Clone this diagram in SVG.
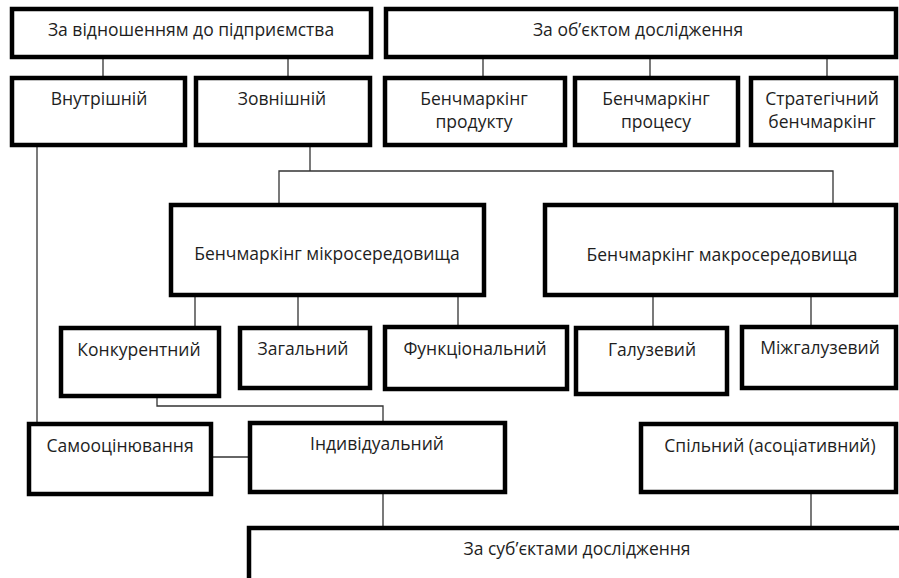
<svg xmlns="http://www.w3.org/2000/svg" width="899" height="578" viewBox="0 0 899 578">
<style>
.box{fill:#fff;stroke:#000;stroke-width:4.5}
.t{font-family:"Open Sans","Liberation Sans",sans-serif;font-size:17.5px;fill:#1e1e1e;text-anchor:middle}
.c{fill:none;stroke:#333;stroke-width:1.3}
</style>
<rect width="899" height="578" fill="#fff"/>
<g id="connectors">
<path class="c" d="M103 57V78M288 57V78M483 57V78M650 57V78M827 57V78"/>
<path class="c" d="M37 127V430"/>
<path class="c" d="M310 127V171M279 205V171H833V205"/>
<path class="c" d="M195 295V328M298 295V328M458 295V327M653 295V328M811 295V327"/>
<path class="c" d="M157 396V406H383V423"/>
<path class="c" d="M211 457H250"/>
<path class="c" d="M383 492V528M811 492V528"/>
</g>
<g id="n-relation"><rect class="box" x="12" y="9" width="359" height="48"/><text class="t" x="191" y="36">За відношенням до підприємства</text></g>
<g id="n-object"><rect class="box" x="386" y="9" width="510" height="48"/><text class="t" x="638" y="36">За об’єктом дослідження</text></g>
<g id="n-internal"><rect class="box" x="12" y="78" width="173" height="67"/><text class="t" x="99" y="105">Внутрішній</text></g>
<g id="n-external"><rect class="box" x="196" y="78" width="174" height="67"/><text class="t" x="282" y="105">Зовнішній</text></g>
<g id="n-product"><rect class="box" x="385" y="78" width="180" height="67"/><text class="t" x="474" y="105">Бенчмаркінг</text><text class="t" x="474" y="128">продукту</text></g>
<g id="n-process"><rect class="box" x="575" y="78" width="163" height="67"/><text class="t" x="656" y="105">Бенчмаркінг</text><text class="t" x="656" y="128">процесу</text></g>
<g id="n-strategic"><rect class="box" x="751" y="78" width="145" height="67"/><text class="t" x="822" y="105">Стратегічний</text><text class="t" x="822" y="128">бенчмаркінг</text></g>
<g id="n-micro"><rect class="box" x="171" y="205" width="313" height="90"/><text class="t" x="327" y="260">Бенчмаркінг мікросередовища</text></g>
<g id="n-macro"><rect class="box" x="545" y="205" width="351" height="90"/><text class="t" x="722" y="261">Бенчмаркінг макросередовища</text></g>
<g id="n-competitive"><rect class="box" x="61" y="328" width="158" height="68"/><text class="t" x="139" y="356">Конкурентний</text></g>
<g id="n-general"><rect class="box" x="240" y="328" width="130" height="60"/><text class="t" x="303" y="355">Загальний</text></g>
<g id="n-functional"><rect class="box" x="385" y="327" width="182" height="62"/><text class="t" x="475" y="355">Функціональний</text></g>
<g id="n-industry"><rect class="box" x="576" y="328" width="151" height="66"/><text class="t" x="652" y="356">Галузевий</text></g>
<g id="n-interindustry"><rect class="box" x="742" y="327" width="154" height="61"/><text class="t" x="820" y="354">Міжгалузевий</text></g>
<g id="n-self"><rect class="box" x="29" y="424" width="182" height="70"/><text class="t" x="120" y="452">Самооцінювання</text></g>
<g id="n-individual"><rect class="box" x="250" y="423" width="255" height="69"/><text class="t" x="377" y="450">Індивідуальний</text></g>
<g id="n-joint"><rect class="box" x="641" y="424" width="255" height="68"/><text class="t" x="770" y="452">Спільний (асоціативний)</text></g>
<g id="n-subjects"><rect class="box" x="249" y="528" width="700" height="100"/><text class="t" x="577" y="555">За суб’єктами дослідження</text></g>
</svg>
